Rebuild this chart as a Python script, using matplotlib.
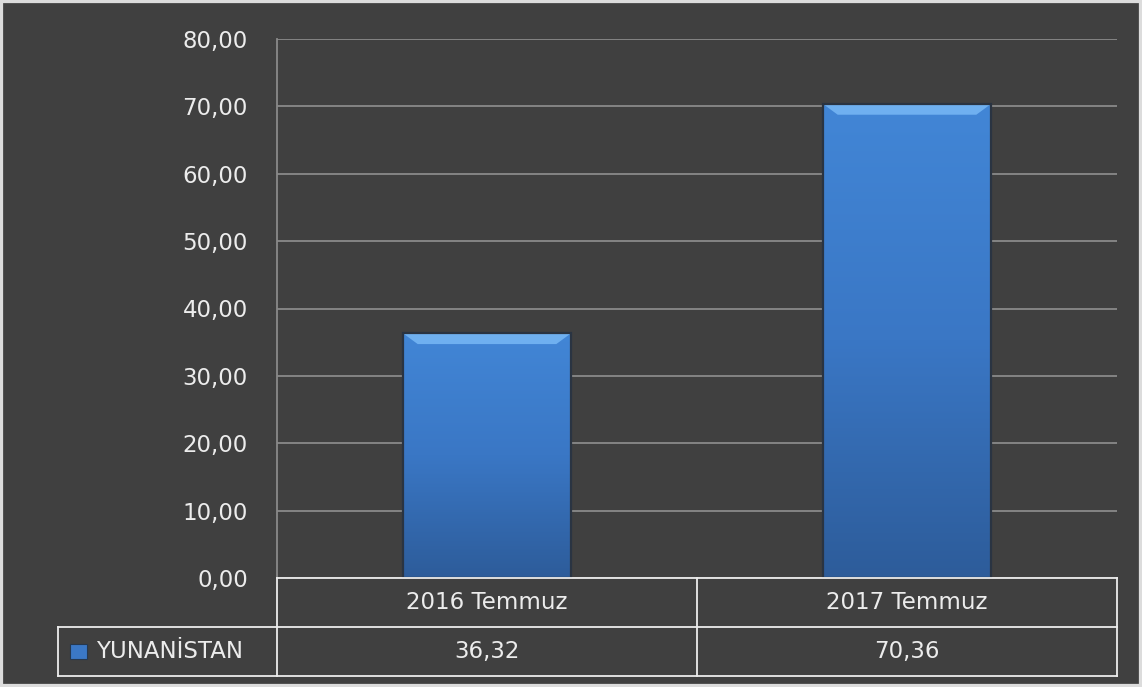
import numpy as np
import matplotlib.pyplot as plt
from matplotlib.colors import LinearSegmentedColormap
from matplotlib.patches import Rectangle, Polygon
import matplotlib.transforms as mtransforms

categories = ['2016 Temmuz', '2017 Temmuz']
values = [36.32, 70.36]
value_labels = ['36,32', '70,36']
series_name = 'YUNANİSTAN'
yticks = [0, 10, 20, 30, 40, 50, 60, 70, 80]

BG = '#404040'
GRID = '#8a8a8a'
FS = 16.5
plt.rcParams['font.family'] = ['DejaVu Sans']

fig = plt.figure(figsize=(11.42, 6.87), dpi=100, facecolor=BG)
W, H = 1142, 687
# plot area in pixels: x 277..1117, y 39..578
ax = fig.add_axes([277 / W, 1 - 578 / H, 840 / W, 539 / H])
ax.set_facecolor(BG)

x = np.arange(len(categories))
bars = ax.bar(x, values, width=0.4, color='#3b78c6', edgecolor='#26384f',
              linewidth=1.2, zorder=3)

# vertical gradient inside each bar
cmap = LinearSegmentedColormap.from_list('bar', ['#2d5c9a', '#3a77c5', '#4286d6'])
grad = np.linspace(0, 1, 256).reshape(-1, 1)
for b in bars:
    x0, y0 = b.get_x(), b.get_y()
    w, h = b.get_width(), b.get_height()
    im = ax.imshow(grad, cmap=cmap, aspect='auto', origin='lower',
                   extent=(x0, x0 + w, y0, y0 + h), zorder=4)
    im.set_clip_path(b)
    # bevel at the top
    bev = 1.6
    ax.add_patch(Polygon([(x0, y0 + h), (x0 + w, y0 + h),
                          (x0 + w - 0.035, y0 + h - bev), (x0 + 0.035, y0 + h - bev)],
                         closed=True, facecolor='#6fb0f0', edgecolor='none', zorder=5))
    ax.add_patch(Rectangle((x0, y0), w, h, facecolor='none', edgecolor='#2a3442',
                           linewidth=1.6, zorder=6))

ax.set_xlim(-0.5, len(categories) - 0.5)
ax.set_ylim(0, 80)
ax.set_yticks(yticks)
ax.set_yticklabels([f'{t:.2f}'.replace('.', ',') for t in yticks])
ax.tick_params(axis='y', length=0, pad=21, labelsize=FS, labelcolor='#ececec')
ax.tick_params(axis='x', length=0, labelbottom=False)
ax.grid(axis='y', color=GRID, linewidth=1.3, zorder=0)
ax.set_axisbelow(True)
for s in ['top', 'right', 'bottom']:
    ax.spines[s].set_visible(False)
ax.spines['left'].set_color(GRID)
ax.spines['left'].set_linewidth(1.3)

# data table below the plot
tr = mtransforms.blended_transform_factory(ax.transData, ax.transAxes)
row_h = 49 / 539
left_x = (58 - 277) / 840
lc = '#ececec'
lw = 1.3
edges = [-0.5 + i for i in range(len(categories) + 1)]
for i in range(3):
    ax.plot([-0.5, len(categories) - 0.5], [-i * row_h] * 2, color=lc, lw=lw,
            transform=tr, clip_on=False, zorder=7)
for e in edges:
    ax.plot([e, e], [0, -2 * row_h], color=lc, lw=lw, transform=tr, clip_on=False, zorder=7)
ax.plot([left_x, 0], [-row_h, -row_h], color=lc, lw=lw, transform=ax.transAxes, clip_on=False)
ax.plot([left_x, 0], [-2 * row_h, -2 * row_h], color=lc, lw=lw, transform=ax.transAxes, clip_on=False)
ax.plot([left_x, left_x], [-row_h, -2 * row_h], color=lc, lw=lw, transform=ax.transAxes, clip_on=False)

for xi, cat, vl in zip(x, categories, value_labels):
    ax.text(xi, -0.5 * row_h, cat, transform=tr, ha='center', va='center',
            color=lc, fontsize=FS)
    ax.text(xi, -1.5 * row_h, vl, transform=tr, ha='center', va='center',
            color=lc, fontsize=FS)

# legend key + series name
key_w = 17 / 840
key_h = 15 / 539
ax.add_patch(Rectangle((left_x + 12 / 840, -1.5 * row_h - key_h / 2), key_w, key_h,
                       transform=ax.transAxes, clip_on=False,
                       facecolor='#3b78c6', edgecolor='#26384f', lw=0.8))
ax.text(left_x + 38 / 840, -1.5 * row_h, series_name, transform=ax.transAxes,
        ha='left', va='center', color=lc, fontsize=FS)

# light frame round the whole picture
fig.patches.append(Rectangle((0, 0), 1, 1, transform=fig.transFigure,
                             facecolor='none', edgecolor='#dcdcdc', lw=4.5))

fig.savefig('out.png', dpi=100, facecolor=BG)
